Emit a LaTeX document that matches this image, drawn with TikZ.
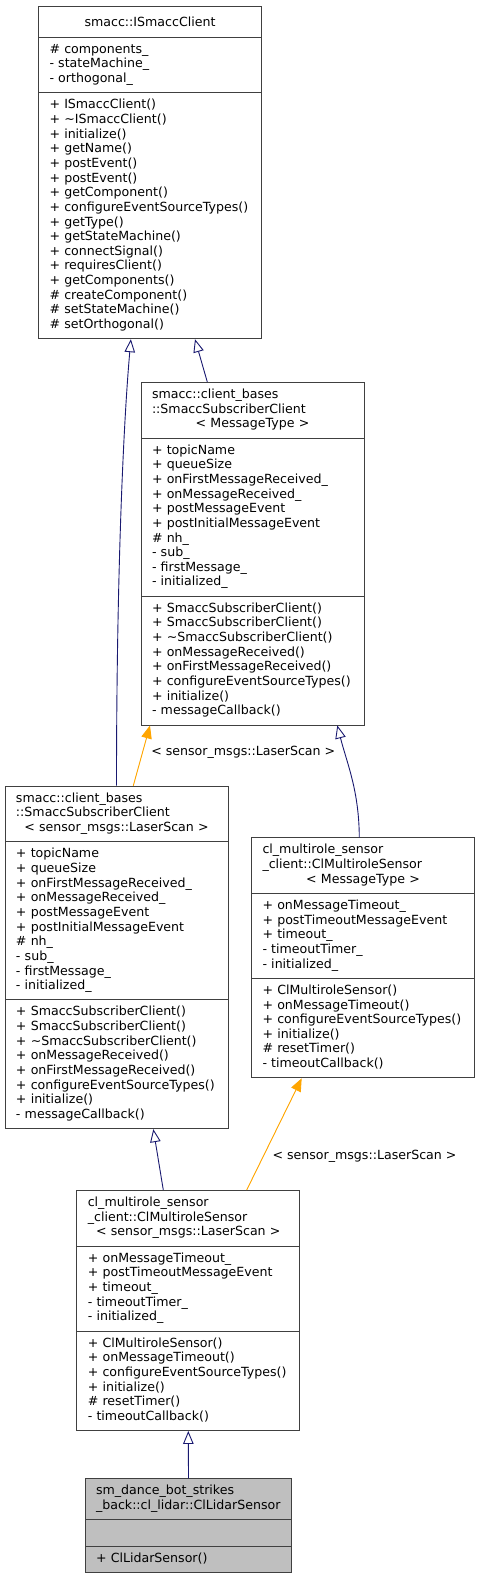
\documentclass[tikz,border=0pt]{standalone}
\usepackage{fontspec}
\setmainfont{DejaVu Sans}
\usetikzlibrary{arrows.meta,shapes.multipart}
\definecolor{boxline}{RGB}{64,64,64}
\definecolor{inhblue}{RGB}{25,25,112}
\definecolor{tplorange}{RGB}{255,165,0}
\definecolor{leafgray}{RGB}{191,191,191}
\newcommand{\mb}[1]{\strut#1\strut}
\newcommand{\ctr}[1]{\par\centerline{\strut#1}}

\begin{document}
\begin{tikzpicture}[x=1pt,y=-1pt]
	\tikzstyle{cls} = [rectangle split, rectangle split parts=3, draw=boxline, line width=0.9pt, anchor=north, text width=201pt, inner xsep=11pt, inner ysep=5.4pt, align=left, font=\fontsize{12.6}{14.64}\selectfont]
	\tikzstyle{inh} = [draw=inhblue, line width=0.9pt, -{Triangle[open,length=13pt,width=10.5pt]}]
	\tikzstyle{tpl} = [draw=tplorange, fill=tplorange, line width=0.9pt, -{Triangle[length=13pt,width=10.5pt]}]
	\tikzstyle{lbl} = [font=\fontsize{12.6}{14.64}\selectfont, inner sep=0pt]
	\useasboundingbox (0,0) rectangle (480,1575);
	\node[cls] (iclient) at (150,6) {\ctr{smacc::ISmaccClient}
		\nodepart{two}\mb{\# components\_\\- stateMachine\_\\- orthogonal\_}
		\nodepart{three}\mb{+ ISmaccClient()\\+ \textasciitilde ISmaccClient()\\+ initialize()\\+ getName()\\+ postEvent()\\+ postEvent()\\+ getComponent()\\+ configureEventSourceTypes()\\+ getType()\\+ getStateMachine()\\+ connectSignal()\\+ requiresClient()\\+ getComponents()\\\# createComponent()\\\# setStateMachine()\\\# setOrthogonal()}};
	\node[cls] (subtpl) at (252.5,382) {\mb{smacc::client\_bases\\::SmaccSubscriberClient}\ctr{< MessageType >}
		\nodepart{two}\mb{+ topicName\\+ queueSize\\+ onFirstMessageReceived\_\\+ onMessageReceived\_\\+ postMessageEvent\\+ postInitialMessageEvent\\\# nh\_\\- sub\_\\- firstMessage\_\\- initialized\_}
		\nodepart{three}\mb{+ SmaccSubscriberClient()\\+ SmaccSubscriberClient()\\+ \textasciitilde SmaccSubscriberClient()\\+ onMessageReceived()\\+ onFirstMessageReceived()\\+ configureEventSourceTypes()\\+ initialize()\\- messageCallback()}};
	\node[cls] (sublaser) at (116.5,785.7) {\mb{smacc::client\_bases\\::SmaccSubscriberClient}\ctr{< sensor\_msgs::LaserScan >}
		\nodepart{two}\mb{+ topicName\\+ queueSize\\+ onFirstMessageReceived\_\\+ onMessageReceived\_\\+ postMessageEvent\\+ postInitialMessageEvent\\\# nh\_\\- sub\_\\- firstMessage\_\\- initialized\_}
		\nodepart{three}\mb{+ SmaccSubscriberClient()\\+ SmaccSubscriberClient()\\+ \textasciitilde SmaccSubscriberClient()\\+ onMessageReceived()\\+ onFirstMessageReceived()\\+ configureEventSourceTypes()\\+ initialize()\\- messageCallback()}};
	\node[cls] (multitpl) at (363,837.3) {\mb{cl\_multirole\_sensor\\\_client::ClMultiroleSensor}\ctr{< MessageType >}
		\nodepart{two}\mb{+ onMessageTimeout\_\\+ postTimeoutMessageEvent\\+ timeout\_\\- timeoutTimer\_\\- initialized\_}
		\nodepart{three}\mb{+ ClMultiroleSensor()\\+ onMessageTimeout()\\+ configureEventSourceTypes()\\+ initialize()\\\# resetTimer()\\- timeoutCallback()}};
	\node[cls] (multilaser) at (188.3,1190) {\mb{cl\_multirole\_sensor\\\_client::ClMultiroleSensor}\ctr{< sensor\_msgs::LaserScan >}
		\nodepart{two}\mb{+ onMessageTimeout\_\\+ postTimeoutMessageEvent\\+ timeout\_\\- timeoutTimer\_\\- initialized\_}
		\nodepart{three}\mb{+ ClMultiroleSensor()\\+ onMessageTimeout()\\+ configureEventSourceTypes()\\+ initialize()\\\# resetTimer()\\- timeoutCallback()}};
	\node[cls, fill=leafgray, text width=185pt, inner xsep=10.7pt] (lidar) at (188.5,1478.3) {\mb{sm\_dance\_bot\_strikes\\\_back::cl\_lidar::ClLidarSensor}
		\nodepart{two}\strut
		\nodepart{three}\mb{+ ClLidarSensor()}};
	\node[lbl] (sublbl) at (243.3,752.3) {< sensor\_msgs::LaserScan >};
	\node[lbl] (multilbl) at (364.5,1156.7) {< sensor\_msgs::LaserScan >};
	\draw[inh] (sublaser.north) .. controls +(0,-200) and +(-8,90) .. ([xshift=-19.1pt]iclient.south);
	\draw[inh] ([xshift=-45.2pt]subtpl.north) -- ([xshift=45pt]iclient.south);
	\draw[tpl] ([xshift=16.8pt]sublaser.north) -- ([xshift=-102.5pt]subtpl.south);
	\draw[inh] ([xshift=-3.7pt]multitpl.north) .. controls +(-0.3,-47) and +(9.7,38) .. ([xshift=84.8pt]subtpl.south);
	\draw[inh] ([xshift=-25pt]multilaser.north) -- ([xshift=36.8pt]sublaser.south);
	\draw[tpl] ([xshift=58.4pt]multilaser.north) -- ([xshift=-61.3pt]multitpl.south);
	\draw[inh] (lidar.north) -- (multilaser.south);
\end{tikzpicture}
\end{document}
